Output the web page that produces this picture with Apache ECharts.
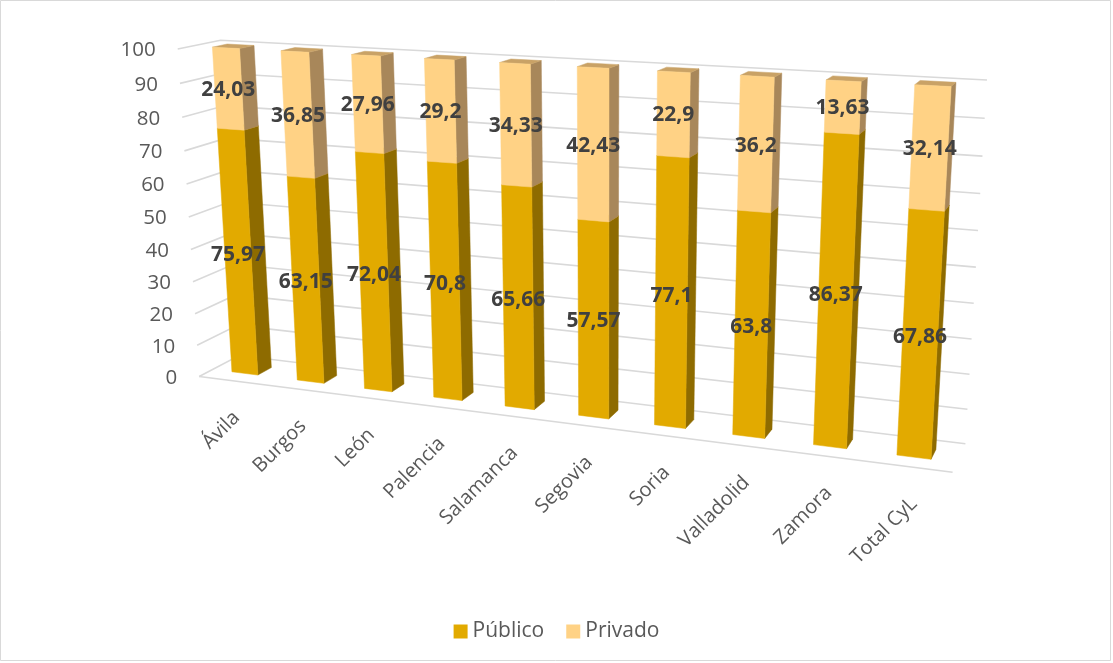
<!DOCTYPE html>
<html>
<head>
<meta charset="utf-8">
<script src="https://cdn.jsdelivr.net/npm/echarts@6/dist/echarts.min.js"></script>
<style>
html,body{margin:0;padding:0;background:#fff;}
#chart{width:1113px;height:663px;}
</style>
</head>
<body>
<div id="chart"></div>
<script>
// ---- data ----
const categories = ['Ávila', 'Burgos', 'León', 'Palencia', 'Salamanca', 'Segovia', 'Soria', 'Valladolid', 'Zamora', 'Total CyL'];
const publico = [75.97, 63.15, 72.04, 70.8, 65.66, 57.57, 77.1, 63.8, 86.37, 67.86];
const privado = [24.03, 36.85, 27.96, 29.2, 34.33, 42.43, 22.9, 36.2, 13.63, 32.14];
const yTicks = [0, 10, 20, 30, 40, 50, 60, 70, 80, 90, 100];
const seriesNames = ['Público', 'Privado'];

// ---- 3D view: screen position of the chart box corners (world x,y,z in [0,1]) ----
const viewAnchors = [
  [0, 0, 0, 198.3, 375],
  [0, 1, 0, 178.3, 50],
  [0, 0, 1, 240, 357],
  [0, 1, 1, 220, 39.3],
  [1, 0, 1, 965, 443],
  [1, 1, 1, 987, 80],
  [1, 0, 0, 953, 473]
];
const BAR_HALF = 0.2;   // half bar width as fraction of category slot
const Z0 = 0.33, Z1 = 0.68;

function fitCamera() {
  const S = 400, cx = 580, cy = 260;
  const rows = [], rhs = [];
  for (const [X, Y, Z, u0, v0] of viewAnchors) {
    const u = (u0 - cx) / S, v = (v0 - cy) / S;
    rows.push([X, Y, Z, 1, 0, 0, 0, 0, -u * X, -u * Y, -u * Z]); rhs.push(u);
    rows.push([0, 0, 0, 0, X, Y, Z, 1, -v * X, -v * Y, -v * Z]); rhs.push(v);
  }
  const n = 11;
  const M = [];
  for (let r = 0; r < n; r++) {
    const row = [];
    for (let c = 0; c < n; c++) {
      let s = 0;
      for (let k = 0; k < rows.length; k++) s += rows[k][r] * rows[k][c];
      row.push(s);
    }
    let s = 0;
    for (let k = 0; k < rows.length; k++) s += rows[k][r] * rhs[k];
    row.push(s);
    M.push(row);
  }
  for (let c = 0; c < n; c++) {
    let piv = c;
    for (let r = c + 1; r < n; r++) if (Math.abs(M[r][c]) > Math.abs(M[piv][c])) piv = r;
    const tmp = M[c]; M[c] = M[piv]; M[piv] = tmp;
    for (let r = 0; r < n; r++) {
      if (r === c) continue;
      const f = M[r][c] / M[c][c];
      for (let k = c; k <= n; k++) M[r][k] -= f * M[c][k];
    }
  }
  const p = M.map((row, i) => row[n] / row[i]);
  return function (X, Y, Z) {
    const w = p[8] * X + p[9] * Y + p[10] * Z + 1;
    const u = (p[0] * X + p[1] * Y + p[2] * Z + p[3]) / w;
    const v = (p[4] * X + p[5] * Y + p[6] * Z + p[7]) / w;
    return [u * S + cx, v * S + cy];
  };
}
const proj = fitCamera();

const FONT = '"Open Sans", "Noto Sans", sans-serif';
const faceColors = {
  'Público': { front: '#E2AA00', side: '#8E6B00', top: '#C49300' },
  'Privado': { front: '#FFD285', side: '#A8875A', top: '#C9A266' }
};

function worldY(cs, py) { return (cs.y + cs.height - py) / cs.height; }
function worldX(cs, px) { return (px - cs.x) / cs.width; }
function fmt(v) { return String(v).replace('.', ','); }

function poly(pts, color) {
  return { type: 'polygon', shape: { points: pts }, style: { fill: color, stroke: color, lineWidth: 0.5 } };
}

function boxRenderer(name) {
  const col = faceColors[name];
  return function (params, api) {
    const cs = params.coordSys;
    const i = api.value(0), lo = api.value(1), hi = api.value(2), val = api.value(3);
    const p0 = api.coord([i, lo]), p1 = api.coord([i, hi]);
    const xc = worldX(cs, p0[0]);
    const hw = api.size([1, 0])[0] / cs.width * BAR_HALF;
    const x0 = xc - hw, x1 = xc + hw;
    const y0 = worldY(cs, p0[1]), y1 = worldY(cs, p1[1]);
    const side = [proj(x1, y0, Z0), proj(x1, y0, Z1), proj(x1, y1, Z1), proj(x1, y1, Z0)];
    const top = [proj(x0, y1, Z0), proj(x1, y1, Z0), proj(x1, y1, Z1), proj(x0, y1, Z1)];
    const front = [proj(x0, y0, Z0), proj(x1, y0, Z0), proj(x1, y1, Z0), proj(x0, y1, Z0)];
    const lp = proj(xc, (y0 + y1) / 2, Z0);
    return {
      type: 'group',
      children: [
        poly(side, col.side),
        poly(top, col.top),
        poly(front, col.front),
        {
          type: 'text', x: lp[0], y: lp[1] + 1, z2: 10,
          style: { text: fmt(val), fill: '#404040', font: 'bold 21px ' + FONT, align: 'center', verticalAlign: 'middle' }
        }
      ]
    };
  };
}

const chart = echarts.init(document.getElementById('chart'), null, { renderer: 'canvas' });
chart.setOption({
  animation: false,
  backgroundColor: '#ffffff',
  graphic: [{
    type: 'rect', shape: { x: 0.5, y: 0.5, width: 1110, height: 660 },
    style: { fill: 'none', stroke: '#D9D9D9', lineWidth: 1 }, z: -10
  }],
  grid: { left: 0, right: 0, top: 0, bottom: 0 },
  xAxis: { type: 'category', data: categories, show: false },
  yAxis: { type: 'value', min: 0, max: 100, interval: 10, show: false },
  legend: {
    data: seriesNames, top: 616, left: 'center', icon: 'rect', itemWidth: 14, itemHeight: 14, itemGap: 22,
    textStyle: { fontSize: 21, color: '#595959', fontFamily: FONT }
  },
  series: [
    {
      type: 'custom', name: 'walls', clip: false, silent: true, z: 1,
      data: yTicks.map(t => [0, t]),
      renderItem: function (params, api) {
        const cs = params.coordSys;
        const t = api.value(1);
        const Y = worldY(cs, api.coord([0, t])[1]);
        const a = proj(0, Y, 0), b = proj(0, Y, 1), c = proj(1, Y, 1);
        return {
          type: 'group',
          children: [
            { type: 'polyline', shape: { points: [a, b, c] }, style: { stroke: '#D9D9D9', lineWidth: 1.6, fill: null } },
            { type: 'text', x: a[0] - 22, y: a[1] + 1.5, style: { text: String(t), fill: '#595959', font: '20.5px ' + FONT, align: 'right', verticalAlign: 'middle' } }
          ]
        };
      }
    },
    {
      type: 'custom', name: 'categories', clip: false, silent: true, z: 1,
      data: categories.map((c, i) => [i, 0]),
      renderItem: function (params, api) {
        const cs = params.coordSys;
        const i = api.value(0);
        const X = worldX(cs, api.coord([i, 0])[0]);
        const a = proj(X, 0, 0);
        const children = [
          { type: 'text', x: a[0] + 5, y: a[1] + 34, rotation: Math.PI / 4,
            style: { text: categories[i], fill: '#595959', font: '20px ' + FONT, align: 'right', verticalAlign: 'middle' } }
        ];
        if (i === 0) {
          children.push({ type: 'line', shape: { x1: proj(0, 0, 0)[0], y1: proj(0, 0, 0)[1], x2: proj(1, 0, 0)[0], y2: proj(1, 0, 0)[1] },
            style: { stroke: '#D9D9D9', lineWidth: 1.6 } });
        }
        return { type: 'group', children: children };
      }
    },
    {
      type: 'custom', name: 'Público', clip: false, z: 2,
      itemStyle: { color: faceColors['Público'].front },
      data: categories.map((c, i) => [i, 0, publico[i], publico[i]]),
      renderItem: boxRenderer('Público')
    },
    {
      type: 'custom', name: 'Privado', clip: false, z: 3,
      itemStyle: { color: faceColors['Privado'].front },
      data: categories.map((c, i) => [i, publico[i], publico[i] + privado[i], privado[i]]),
      renderItem: boxRenderer('Privado')
    }
  ]
});
</script>
</body>
</html>
